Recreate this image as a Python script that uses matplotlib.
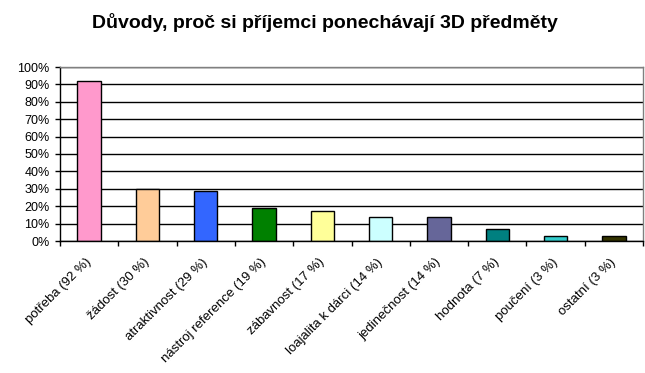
import matplotlib
matplotlib.use("Agg")
import matplotlib.pyplot as plt
from matplotlib.ticker import FixedLocator, FuncFormatter
import numpy as np

plt.rcParams['font.family'] = ['Liberation Sans', 'DejaVu Sans']

title = "Důvody, proč si příjemci ponechávají 3D předměty"
categories = ["potřeba (92 %)", "žádost (30 %)", "atraktivnost (29 %)",
              "nástroj reference (19 %)", "zábavnost (17 %)", "loajalita k dárci (14 %)",
              "jedinečnost (14 %)", "hodnota (7 %)", "poučení (3 %)", "ostatní (3 %)"]
values = [92, 30, 29, 19, 17, 14, 14, 7, 3, 3]
colors = ["#FF99CC", "#FFCC99", "#3366FF", "#008000", "#FFFF99",
          "#CCFFFF", "#666699", "#008080", "#33CCCC", "#333300"]

fig = plt.figure(figsize=(6.45, 3.73), dpi=100)
ax = fig.add_axes([60/645, 1-241/373, 583/645, 174/373])

x = np.arange(len(values))
ax.bar(x, values, width=0.4, color=colors, edgecolor='black', linewidth=1, zorder=3)
ax.set_xlim(-0.5, len(values)-0.5)
ax.set_ylim(0, 100)

ax.yaxis.set_major_locator(FixedLocator(range(0, 101, 10)))
ax.yaxis.set_major_formatter(FuncFormatter(lambda v, p: f"{int(v)}%"))
ax.grid(axis='y', color='black', linewidth=1, zorder=1)
ax.tick_params(axis='y', direction='out', length=3.6, width=1, labelsize=9, pad=4)

ax.xaxis.set_major_locator(FixedLocator(np.arange(-0.5, len(values), 1)))
ax.xaxis.set_major_formatter(FuncFormatter(lambda v, p: ""))
ax.xaxis.set_minor_locator(FixedLocator(x))
ax.set_xticklabels(categories, minor=True)
ax.tick_params(axis='x', which='major', direction='out', length=3.6, width=1)
ax.tick_params(axis='x', which='minor', length=0, labelsize=9.5, pad=14)
for lbl in ax.get_xticklabels(minor=True):
    lbl.set_rotation(45)
    lbl.set_ha('right')
    lbl.set_va('center')
    lbl.set_rotation_mode('anchor')

for s in ['top', 'right']:
    ax.spines[s].set_color('#808080')
for s in ['left', 'bottom']:
    ax.spines[s].set_color('black')
for s in ax.spines.values():
    s.set_linewidth(1)
    s.set_zorder(4)

fig.text(324.5/645, 1-23/373, title, ha='center', va='center', fontsize=14, fontweight='bold')

fig.savefig("out.png", dpi=100)
